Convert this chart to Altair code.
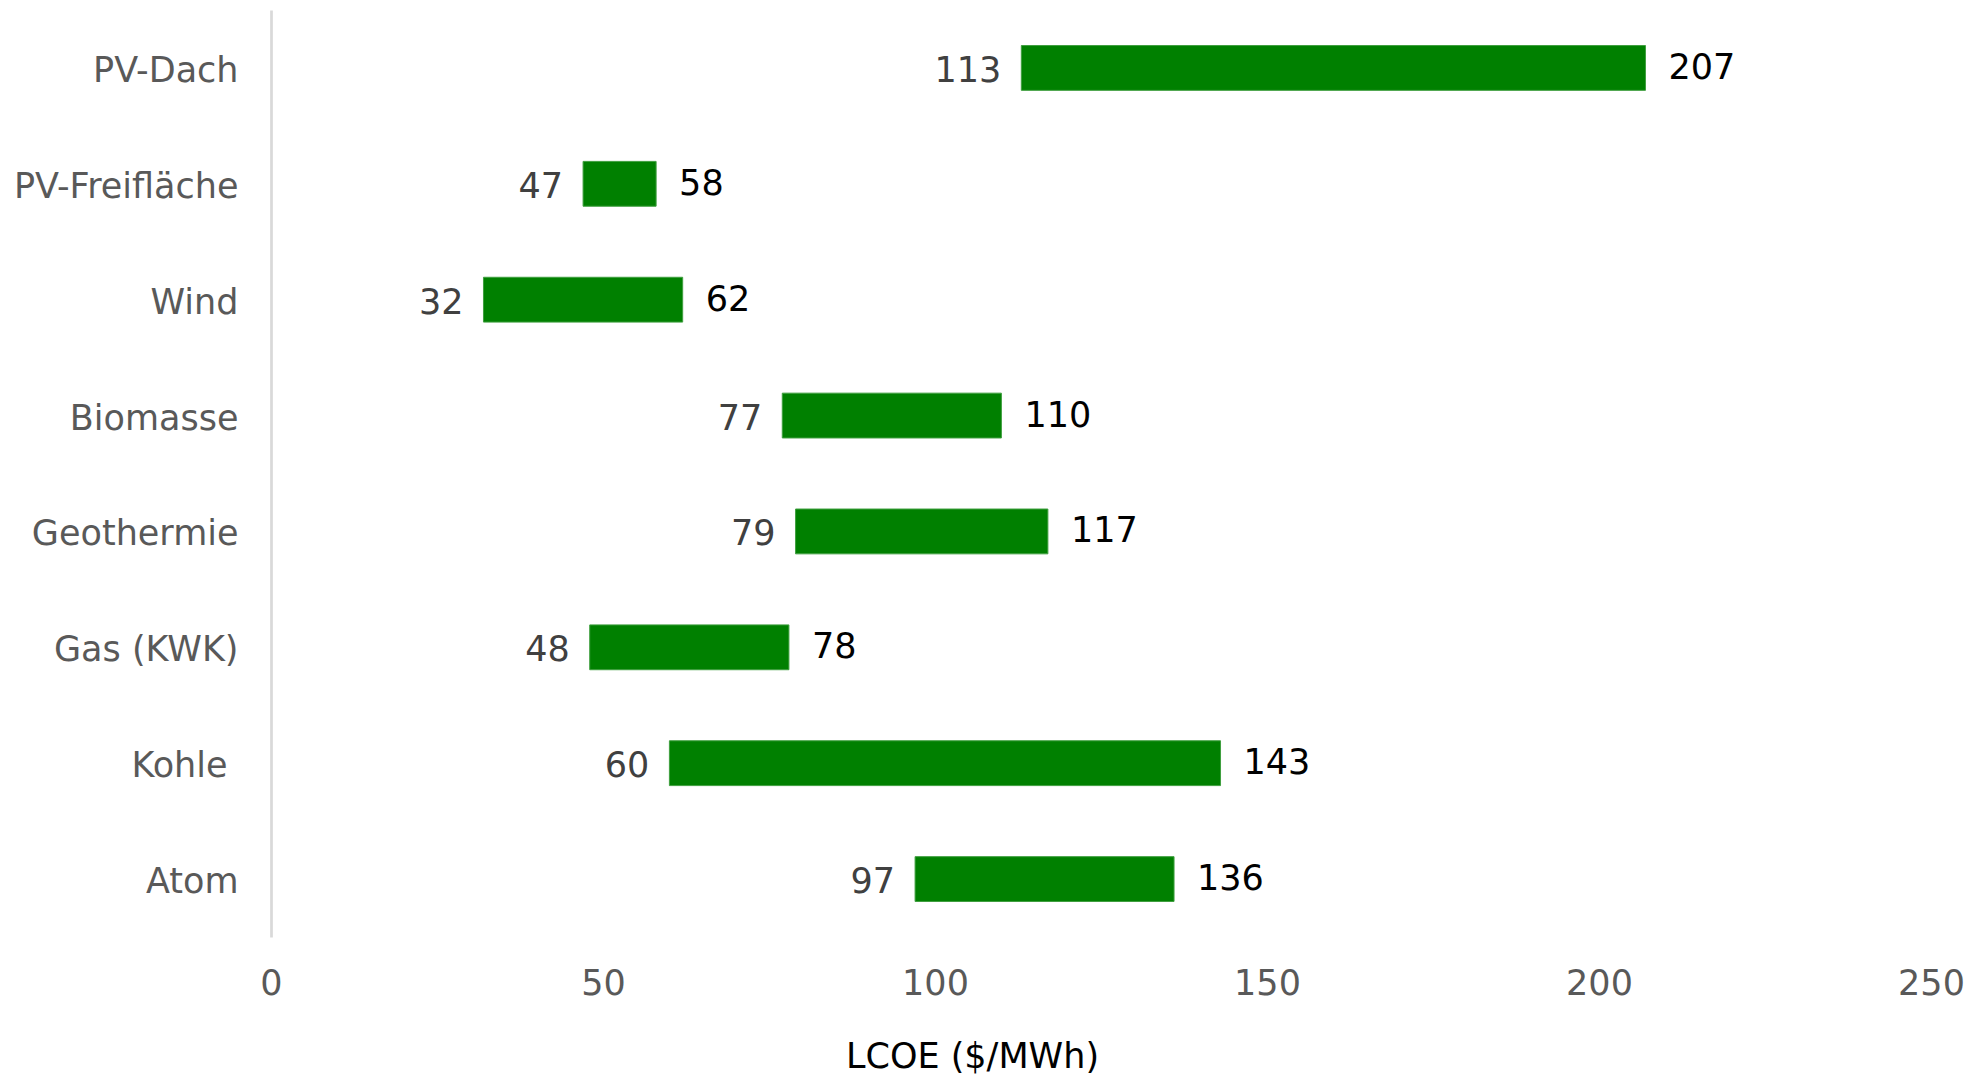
import altair as alt
import pandas as pd

categories = ["PV-Dach", "PV-Freifläche", "Wind", "Biomasse", "Geothermie",
              "Gas (KWK)", "Kohle ", "Atom"]
low = [113, 47, 32, 77, 79, 48, 60, 97]
high = [207, 58, 62, 110, 117, 78, 143, 136]
x_ticks = [0, 50, 100, 150, 200, 250]

df = pd.DataFrame({"cat": categories, "low": low, "high": high})

FONT = "DejaVu Sans"
FS = 35

y_enc = alt.Y("cat:N", sort=categories,
              scale=alt.Scale(paddingInner=0.613, paddingOuter=0.3065),
              axis=alt.Axis(title=None, labelFontSize=FS, labelColor="#595959",
                            labelFont=FONT, labelLimit=500, ticks=False, tickSize=0,
                            labelOffset=3,
                            labelPadding={"condition": {"test": "datum.value == 'Kohle '", "value": 44},
                                          "value": 33},
                            domainColor="#d9d9d9", domainWidth=2.7,
                            grid=False))

x_scale = alt.Scale(domain=[0, 250], nice=False, zero=True)

bars = alt.Chart(df).mark_bar(color="#008000", stroke="#3f9f3f", strokeWidth=1).encode(
    x=alt.X("low:Q", scale=x_scale,
            axis=alt.Axis(values=x_ticks, title="LCOE ($/MWh)", labelFontSize=FS,
                          labelColor="#595959", labelFont=FONT, labelFlush=False,
                          ticks=False, tickSize=0, domain=False, grid=False,
                          labelPadding=29, titleFontSize=FS, titleFont=FONT,
                          titleColor="#000000", titleFontWeight="normal",
                          titleX=701, titleY=130, titleBaseline="alphabetic")),
    x2="high:Q",
    y=y_enc,
)

left_labels = alt.Chart(df).mark_text(align="right", baseline="middle", dx=-20, dy=3,
                                      fontSize=FS, font=FONT, color="#404040").encode(
    x=alt.X("low:Q", scale=x_scale),
    y=alt.Y("cat:N", sort=categories),
    text=alt.Text("low:Q"),
)

right_labels = alt.Chart(df).mark_text(align="left", baseline="middle", dx=23, dy=0,
                                       fontSize=FS, font=FONT, color="#000000").encode(
    x=alt.X("high:Q", scale=x_scale),
    y=alt.Y("cat:N", sort=categories),
    text=alt.Text("high:Q"),
)

chart = alt.layer(bars, left_labels, right_labels).properties(
    width=1660, height=927,
    autosize=alt.AutoSizeParams(type="none"),
    padding={"left": 263, "top": 2, "right": 40, "bottom": 137},
).configure_view(stroke=None)

chart.save("out.html", embed_options={"renderer": "svg", "actions": False})
